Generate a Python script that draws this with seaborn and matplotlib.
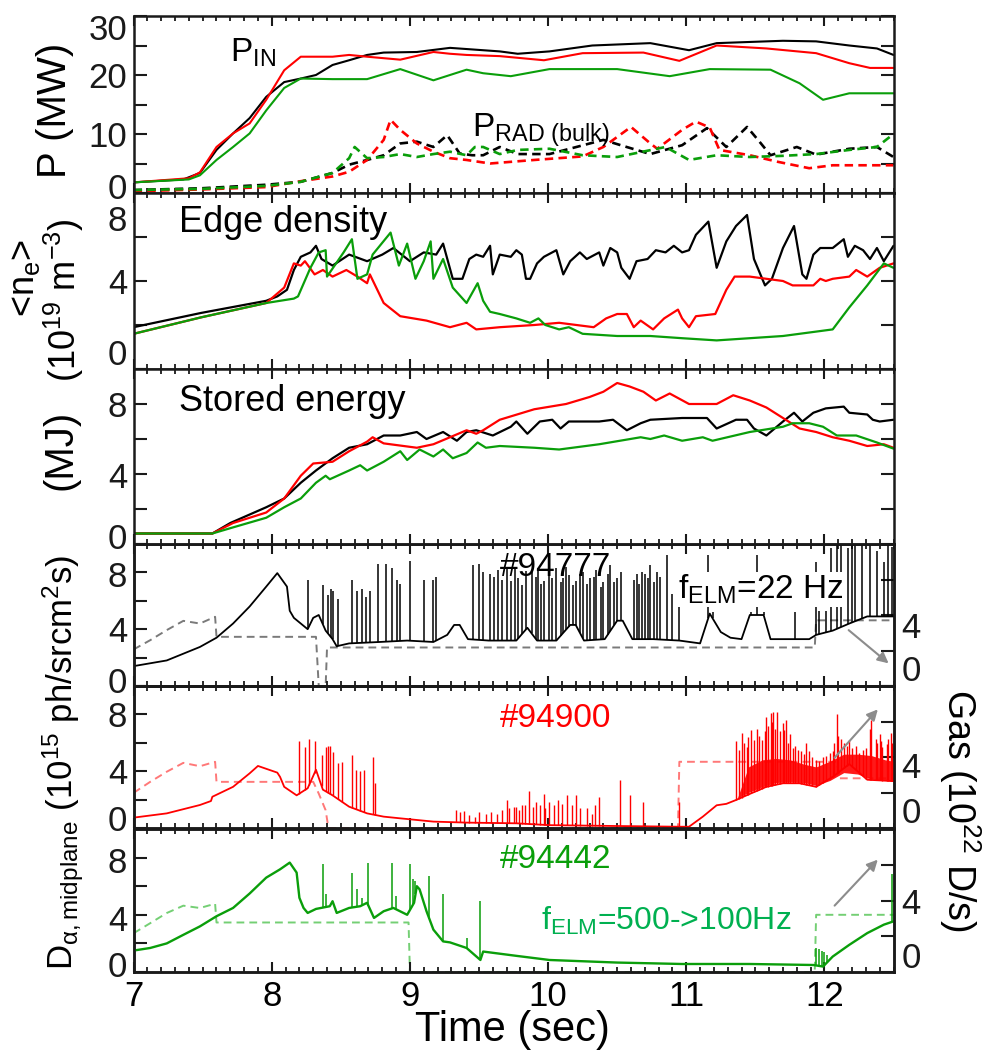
import numpy as np
import matplotlib
matplotlib.use("Agg")
import matplotlib.pyplot as plt
import seaborn as sns
from matplotlib.ticker import MultipleLocator, NullLocator

# ---------------- data ----------------
# Panel 1: input power (solid) and bulk radiated power (dashed), MW
pin_t_k = [7.0,7.36,7.48,7.60,7.72,7.84,7.96,8.09,8.21,8.32,8.44,8.56,8.69,8.81,9.05,9.29,9.41,9.65,9.78,10.01,10.32,10.74,11.02,11.22,11.70,11.94,12.18,12.38,12.5]
pin_k   = [1.8,2.3,3.4,7.3,10.1,12.7,16.3,18.8,19.4,20.0,21.7,22.5,23.4,23.8,23.9,24.6,24.4,24.0,23.6,24.0,25.0,25.4,24.2,25.4,25.8,25.7,25.0,24.5,23.4]
pin_t_r = [7.0,7.40,7.48,7.60,7.72,7.84,7.96,8.09,8.21,8.44,8.56,8.69,8.93,9.17,9.29,9.41,9.65,9.97,10.25,10.69,10.95,11.22,11.58,11.94,12.18,12.33,12.5]
pin_r   = [1.8,2.5,3.5,7.8,10.1,11.8,15.8,20.8,23.1,23.1,23.4,23.1,22.6,23.9,23.6,23.4,23.2,22.5,23.7,23.8,22.4,25.0,24.5,23.7,22.0,21.2,21.2]
pin_t_g = [7.0,7.40,7.48,7.60,7.72,7.84,7.96,8.09,8.21,8.44,8.69,8.93,9.17,9.41,9.53,9.73,10.01,10.50,10.88,11.17,11.61,11.82,11.99,12.18,12.5]
pin_g   = [1.8,2.3,3.0,5.6,7.8,10.1,14.0,17.8,19.4,19.3,19.3,21.0,19.1,20.9,20.3,19.8,21.0,21.0,19.8,21.0,20.9,18.6,15.8,16.9,16.9]

prad_t_k = [7.0,7.49,7.96,8.21,8.44,8.56,8.69,8.81,8.93,9.05,9.17,9.27,9.36,9.45,9.53,9.65,9.78,10.01,10.40,10.54,10.74,10.97,11.15,11.29,11.44,11.53,11.61,11.80,11.94,12.18,12.38,12.5]
prad_k   = [0.5,0.8,1.4,1.9,3.4,4.8,5.6,6.4,8.4,8.7,7.8,9.8,6.7,6.4,6.4,7.8,6.6,6.6,9.0,8.0,6.6,8.1,11.0,7.8,11.2,8.7,6.4,7.8,6.5,7.5,7.8,6.1]
prad_t_r = [7.0,7.49,7.96,8.21,8.44,8.56,8.69,8.81,8.86,8.93,9.05,9.17,9.29,9.41,9.58,9.90,10.25,10.40,10.60,10.74,10.79,10.97,11.07,11.17,11.24,11.46,11.66,11.89,12.06,12.31,12.5]
prad_r   = [0.3,0.6,1.0,2.0,2.8,3.6,5.6,9.0,12.4,10.7,8.4,7.0,5.9,5.6,5.0,5.6,6.2,7.8,11.2,8.4,7.5,10.7,12.1,11.1,7.3,6.4,5.3,4.2,4.7,4.7,4.7]
prad_t_g = [7.0,7.49,7.96,8.21,8.44,8.56,8.60,8.69,8.81,8.93,9.05,9.17,9.29,9.41,9.47,9.53,9.65,9.78,10.01,10.25,10.50,10.85,11.02,11.22,11.46,11.70,11.94,12.18,12.38,12.5]
prad_g   = [0.5,0.7,1.2,1.9,3.4,5.9,7.8,5.9,6.1,6.6,6.1,6.6,7.0,6.4,7.8,7.8,6.6,7.3,7.5,6.4,6.1,7.8,5.6,6.4,6.1,6.3,6.6,7.3,7.8,10.0]

# Panel 2: edge density, 1e19 m^-3
ne_t_k = [7.0,7.49,7.96,8.04,8.11,8.16,8.21,8.28,8.32,8.36,8.44,8.56,8.69,8.80,8.88,9.0,9.10,9.19,9.24,9.31,
          9.38,9.43,9.48,9.53,9.58,9.60,9.65,9.73,9.77,9.81,9.84,9.87,9.92,9.97,10.06,10.11,10.16,10.23,10.28,10.37,
          10.40,10.45,10.50,10.53,10.59,10.64,10.72,10.78,10.85,10.91,10.97,11.02,11.07,11.16,11.18,11.22,11.29,11.36,11.44,11.49,
          11.57,11.62,11.70,11.78,11.84,11.87,11.92,11.97,12.06,12.14,12.17,12.22,12.28,12.33,12.38,12.43,12.5]
ne_k   = [1.9,2.55,3.1,3.3,3.6,4.5,5.1,5.3,5.6,5.0,4.7,5.2,4.9,5.2,5.5,4.9,5.3,5.2,5.7,4.1,
          4.1,5.0,5.2,5.1,5.6,4.3,5.2,5.1,5.4,5.2,4.1,4.1,4.8,5.1,5.4,4.3,4.9,5.3,5.0,5.3,
          4.7,5.5,5.3,4.6,4.1,4.9,5.0,5.4,5.3,5.6,5.3,5.4,6.1,6.7,6.0,4.6,5.8,6.5,7.0,5.0,
          3.8,4.1,5.5,6.5,4.3,4.1,5.2,5.5,5.5,5.9,5.1,5.6,5.4,5.0,5.5,4.9,5.6]
ne_t_r = [7.0,7.49,7.96,8.09,8.16,8.21,8.24,8.31,8.37,8.44,8.54,8.62,8.69,8.71,8.81,8.93,9.12,9.29,9.41,9.48,
          9.65,9.90,10.08,10.33,10.42,10.50,10.57,10.62,10.67,10.76,10.84,10.94,10.97,11.02,11.07,11.21,11.29,11.35,11.46,11.58,
          11.70,11.77,11.92,11.97,12.01,12.06,12.18,12.23,12.31,12.40,12.5]
ne_r   = [1.6,2.35,3.0,3.7,4.8,4.7,4.9,4.3,4.5,4.2,4.5,4.2,3.9,4.3,3.0,2.4,2.2,1.9,2.1,1.8,
          1.9,2.0,2.1,1.9,2.3,2.5,2.5,1.9,2.2,1.8,2.3,2.7,2.3,1.9,2.4,2.5,3.6,4.2,4.2,4.1,
          4.0,3.8,3.8,4.1,4.0,4.1,4.2,4.5,4.2,4.6,4.8]
ne_t_g = [7.0,7.49,7.96,8.11,8.16,8.19,8.28,8.34,8.39,8.40,8.52,8.58,8.62,8.69,8.73,8.86,8.92,8.98,9.04,9.10,
          9.15,9.17,9.24,9.31,9.41,9.49,9.53,9.58,9.65,9.77,9.87,9.93,9.98,10.08,10.15,10.25,10.50,10.74,10.97,11.22,
          11.46,11.70,11.94,12.06,12.18,12.31,12.43,12.5]
ne_g   = [1.6,2.35,3.0,3.15,3.2,3.3,4.6,5.3,5.4,4.2,5.3,5.9,4.1,4.3,5.2,6.2,4.7,5.7,4.1,4.9,
          5.8,4.1,5.0,3.7,3.0,3.9,3.1,2.6,2.5,2.3,2.1,2.3,2.0,1.8,1.9,1.6,1.5,1.5,1.4,1.3,
          1.4,1.5,1.7,1.8,2.8,3.8,4.8,4.6]

# Panel 3: stored energy, MJ
w_t_k = [7.0,7.57,7.70,7.96,8.09,8.21,8.32,8.44,8.56,8.69,8.81,8.93,9.05,9.12,9.24,9.34,9.41,9.48,9.60,9.73,
         9.77,9.85,9.94,10.03,10.09,10.15,10.37,10.47,10.57,10.67,10.74,10.97,11.15,11.22,11.36,11.44,11.49,11.58,11.70,11.78,
         11.84,11.92,12.01,12.14,12.18,12.31,12.35,12.40,12.5]
w_k   = [0.6,0.6,1.2,2.1,2.6,3.5,4.2,4.9,5.5,5.7,6.2,6.2,6.4,6.0,6.4,5.9,6.4,6.5,6.2,6.7,
         7.0,6.3,7.0,7.1,6.6,7.0,7.0,7.1,6.5,6.9,7.1,7.2,7.2,6.6,7.1,7.1,6.6,6.2,7.0,7.5,
         7.0,7.5,7.75,7.85,7.5,7.4,7.1,7.0,7.1]
w_t_r = [7.0,7.57,7.72,7.96,8.09,8.21,8.30,8.44,8.56,8.69,8.73,8.81,9.05,9.17,9.29,9.41,9.48,9.53,9.65,9.90,
         10.13,10.30,10.40,10.50,10.59,10.69,10.78,10.88,11.02,11.22,11.34,11.46,11.58,11.70,11.82,11.94,12.06,12.18,12.31,12.43,12.5]
w_r   = [0.6,0.6,1.2,1.8,2.6,3.9,4.6,4.7,5.3,5.85,6.1,5.75,5.5,5.7,6.1,6.5,6.3,6.5,7.1,7.7,
         8.0,8.4,8.7,9.2,9.0,8.7,8.2,8.6,8.0,8.0,8.5,8.2,7.8,7.2,6.6,6.4,6.1,5.9,5.6,5.7,5.5]
w_t_g = [7.0,7.57,7.72,7.96,8.09,8.21,8.32,8.39,8.42,8.56,8.64,8.69,8.81,8.93,8.98,9.07,9.17,9.24,9.31,9.41,
         9.49,9.55,9.65,9.90,10.08,10.37,10.67,10.74,10.84,10.97,11.12,11.19,11.46,11.70,11.77,11.89,11.99,12.09,12.23,12.38,12.5]
w_g   = [0.6,0.6,0.95,1.5,2.1,2.6,3.5,3.9,3.7,4.2,4.5,4.2,4.7,5.3,4.8,5.4,5.0,5.4,4.9,5.2,
         5.8,5.5,5.6,5.5,5.4,5.7,6.1,6.0,6.2,5.9,6.1,5.9,6.4,6.7,6.9,6.9,6.7,6.2,6.2,5.8,5.45]

# Panel 4: #94777 D-alpha (baseline + ELM spikes), 1e15 ph/sr cm^2 s
da_t_k = [7.0,7.24,7.48,7.60,7.72,7.84,7.96,8.04,8.11,8.13,8.16,8.26,8.30,8.34,8.39,8.44,8.47,8.56,8.78,8.98,
          9.17,9.27,9.32,9.36,9.42,9.57,9.77,9.85,9.92,10.06,10.16,10.20,10.26,10.41,10.50,10.54,10.61,10.76,10.95,11.10,
          11.17,11.25,11.32,11.40,11.46,11.56,11.61,11.74,11.89,11.94,12.06,12.18,12.31,12.5]
da_k   = [1.4,1.8,2.75,3.4,4.4,5.6,7.0,7.95,7.0,5.3,4.8,4.0,4.8,5.0,3.9,3.3,2.8,3.0,3.1,3.2,
          3.1,3.6,4.3,4.3,3.3,3.2,3.2,4.1,3.2,3.2,4.3,4.3,3.2,3.3,4.6,4.6,3.3,3.3,3.2,3.0,
          5.1,3.8,3.4,3.3,5.0,5.0,3.3,3.3,3.3,3.6,3.9,4.4,4.9,4.9]
elm_t_k = [8.26,8.37,8.41,8.43,8.44,8.48,8.58,8.62,8.65,8.68,8.71,8.77,8.83,8.87,8.91,8.93,9.00,9.10,9.17,9.19,
           9.46,9.50,9.58,9.64,9.73,9.78,9.84,9.88,9.93,9.97,10.01,10.06,10.11,10.15,10.20,10.25,10.30,10.35,10.40,10.45,
           10.50,10.64,10.68,10.70,10.74,10.79,10.86,10.90,10.95,11.16,11.19,11.47,11.51,11.56,11.79,11.94,11.96,12.01,12.05,12.09,
           12.12,12.17,12.20,12.22,12.27,12.33,12.38,12.43,12.46,12.49,
           9.53,9.61,9.67,9.70,9.76,9.81,9.91,9.95,10.03,10.09,10.13,10.18,10.23,10.28,10.33,10.38,10.43,10.48,10.53,10.62,
           10.66,10.72,10.77,10.81]
elm_k   = [7.5,7.1,6.4,6.8,6.7,6.1,7.5,6.7,6.8,6.3,6.7,8.6,8.6,8.3,7.5,7.2,8.8,7.5,7.5,7.7,
           8.5,8.6,7.9,8.2,7.4,7.6,8.1,8.1,8.3,7.4,8.1,8.3,7.6,7.8,7.4,8.0,7.6,8.2,7.3,8.5,
           7.6,7.9,8.0,7.9,8.5,8.0,9.2,6.5,6.0,9.2,5.2,5.2,9.2,5.2,5.2,8.7,5.3,5.3,9.7,9.9,
           10.0,9.7,10.0,10.0,9.9,10.0,9.5,8.7,10.0,9.8,
           8.0,7.7,7.5,8.4,8.3,7.1,7.7,7.2,7.6,7.3,8.4,7.1,7.9,7.2,7.7,7.0,7.9,7.3,8.0,7.5,
           7.2,7.6,7.3,7.7]
gas_t_k = [7.0,7.12,7.24,7.36,7.48,7.59,7.60,8.32,8.34,8.39,8.40,11.93,11.94,12.5]
gas_k   = [2.06,2.58,3.15,3.67,3.52,3.9,2.77,2.77,0.0,0.0,2.17,2.17,3.7,3.7]

# Panel 5: #94900
da_t_r = [7.0,7.24,7.48,7.56,7.57,7.72,7.84,7.90,8.04,8.06,8.09,8.18,8.26,8.32,8.37,8.44,8.56,8.69,8.81,8.93,
          9.17,9.41,9.77,10.01,10.50,10.95,11.02,11.12,11.22,11.29,11.36,11.46,11.58,11.70,11.82,11.94,12.06,12.18,12.31,12.5]
da_r   = [0.73,1.03,1.62,1.9,2.2,2.9,3.85,4.37,3.9,3.6,2.9,2.3,2.8,4.1,2.7,2.3,1.5,1.03,0.8,0.68,
          0.45,0.38,0.33,0.2,0.14,0.09,0.09,0.8,1.6,1.7,1.97,2.4,2.9,3.15,3.15,2.9,3.6,4.5,3.4,3.3]
elm_t_r1 = [8.20,8.24,8.27,8.31,8.36,8.39,8.41,8.42,8.44,8.48,8.51,8.58,8.61,8.64,8.67,8.73,8.75]
elm_r1   = [6.13,5.73,6.24,6.13,5.14,5.73,5.78,5.78,5.38,4.55,4.66,5.14,4.08,4.04,4.08,5.02,3.15]
elm_t_r2 = [9.33,9.36,9.39,9.43,9.47,9.50,9.55,9.59,9.63,9.67,9.70,9.72,9.75,9.77,9.79,9.81,9.83,9.86,9.89,9.91,
            9.94,9.97,9.98,10.01,10.04,10.07,10.10,10.14,10.17,10.20,10.23,10.28,10.32,10.34,10.37,10.52,10.59,10.69,10.95]
elm_r2   = [1.3,1.1,1.2,0.9,0.8,1.1,1.0,1.1,1.0,1.3,2.0,1.4,1.5,1.5,1.3,1.6,1.6,2.6,1.5,1.85,
            1.6,2.4,1.4,1.85,1.6,1.97,1.7,2.3,1.6,2.3,1.4,1.4,1.0,1.6,2.2,3.4,2.3,1.85,1.85]
elm_t_r3 = [11.36,11.38,11.40,11.42,11.44,11.45,11.47,11.49,11.51,11.53,11.55,11.57,11.58,11.59,11.61,11.62,11.63,11.64,11.66,11.68,
            11.70,11.71,11.72,11.74,11.75,11.77,11.79,11.81,11.83,11.85,11.87,11.89,11.91,11.94,11.96,11.99,12.01,12.04,12.06,12.07,
            12.09,12.10,12.12,12.14,12.16,12.18,12.20,12.23,12.25,12.28,12.30,12.33,12.34,12.37,12.38,12.40,12.41,12.42,12.45,12.46,
            12.48,12.49]
elm_r3   = [6.1,5.5,6.7,6.0,5.7,6.4,6.9,6.2,7.0,6.5,6.2,6.8,7.8,7.2,8.1,7.5,8.2,7.0,8.2,6.8,
            7.4,6.9,7.6,6.0,6.6,5.6,5.8,5.5,5.4,5.2,6.0,5.4,5.0,4.8,4.7,5.0,5.1,5.3,5.4,6.0,
            8.0,6.5,6.3,6.0,5.8,6.2,5.6,5.8,5.3,5.5,5.6,7.0,7.6,6.3,6.0,6.6,6.1,5.7,5.9,6.3,
            6.7,6.0]
band_t_r  = [11.37,11.45,11.55,11.65,11.75,11.85,11.94,12.04,12.14,12.24,12.34,12.44,12.5]
band_lo_r = [2.1,2.5,2.9,3.2,3.25,3.2,3.0,3.35,3.9,3.8,3.45,3.35,3.3]
band_hi_r = [2.1,4.3,4.8,4.9,4.8,4.5,4.3,4.7,5.2,5.2,5.1,4.8,4.7]
gas_t_r = [7.0,7.12,7.24,7.36,7.48,7.59,7.60,8.30,8.34,8.39,8.41,10.94,10.95,12.09,12.11,12.5]
gas_r   = [1.98,2.6,3.17,3.67,3.48,3.73,2.6,2.6,1.94,1.0,0.0,0.0,3.73,3.73,2.8,2.8]

# Panel 6: #94442
da_t_g = [7.0,7.12,7.24,7.36,7.48,7.60,7.72,7.84,7.96,8.06,8.13,8.18,8.20,8.23,8.26,8.32,8.42,8.44,8.47,8.56,
          8.64,8.69,8.74,8.81,8.88,8.98,9.03,9.05,9.07,9.12,9.17,9.24,9.29,9.41,9.51,9.53,9.77,10.01,10.50,10.97,
          11.46,11.92,11.99,12.06,12.18,12.31,12.43,12.5]
da_g   = [1.5,1.68,2.0,2.6,3.19,3.9,4.48,5.49,6.6,7.18,7.65,6.95,5.19,4.48,4.13,4.41,4.6,4.95,4.13,4.48,
          4.6,4.84,3.78,4.25,4.48,4.0,4.84,6.0,5.78,4.25,2.96,2.14,2.07,1.68,0.84,1.43,1.13,0.84,0.66,0.56,
          0.56,0.49,0.38,1.08,1.9,2.72,3.31,3.54]
elm_t_g = [8.37,8.39,8.58,8.62,8.65,8.70,8.87,8.90,9.00,9.02,9.04,9.14,9.24,9.41,9.51,11.94,11.96,11.98,12.00,12.02,12.49]
elm_g   = [7.54,5.42,6.95,5.77,5.19,7.65,7.65,5.3,7.54,6.48,6.36,6.72,5.42,2.37,5.0,1.7,1.6,1.5,1.4,1.2,6.83]
gas_t_g = [7.0,7.12,7.24,7.36,7.48,7.59,7.60,8.99,9.0,11.93,11.94,12.5]
gas_g   = [2.17,2.73,3.3,3.71,3.58,3.82,2.77,2.77,0.0,0.0,3.2,3.2]

# ---------------- style ----------------
sns.set_theme(style="ticks")
plt.rcParams["font.family"] = ["Liberation Sans", "DejaVu Sans"]
plt.rcParams["mathtext.fontset"] = "custom"
plt.rcParams["mathtext.rm"] = "Liberation Sans"
plt.rcParams["mathtext.it"] = "Liberation Sans:italic"
plt.rcParams["mathtext.bf"] = "Liberation Sans:bold"
plt.rcParams["mathtext.default"] = "regular"
plt.rcParams["axes.unicode_minus"] = False
plt.rcParams["text.color"] = "black"
plt.rcParams["axes.labelcolor"] = "black"
plt.rcParams["xtick.color"] = "black"
plt.rcParams["ytick.color"] = "black"
plt.rcParams["xtick.labelcolor"] = "black"
plt.rcParams["ytick.labelcolor"] = "black"

K, R, G = "#000000", "#ff0000", "#0a9e0a"
GK, GR, GG = "#7a7a7a", "#ff7878", "#74cf74"

W, H = 988, 1057
fig = plt.figure(figsize=(W / 100, H / 100), dpi=100)
fig.patch.set_facecolor("white")


def rect(top, bot):
    return [133.6 / W, 1 - bot / H, (893.5 - 133.6) / W, (bot - top) / H]


bounds = [(16, 193), (193, 369), (369, 544), (544, 686), (686, 828), (829, 972)]
axs = [fig.add_axes(rect(*b)) for b in bounds]


def line(ax, t, v, **kw):
    sns.lineplot(x=t, y=v, ax=ax, estimator=None, sort=False, legend=False, **kw)


def style(ax, ymax, ystep, right=True):
    ax.set_xlim(7, 12.5)
    ax.set_ylim(0, ymax)
    ax.xaxis.set_major_locator(MultipleLocator(1))
    ax.xaxis.set_minor_locator(MultipleLocator(0.1))
    ax.yaxis.set_major_locator(MultipleLocator(ystep))
    ax.yaxis.set_minor_locator(NullLocator())
    ax.tick_params(axis="x", which="major", direction="in", length=7.5, width=1.5,
                   top=True, bottom=True, labelbottom=False, color="k")
    ax.tick_params(axis="x", which="minor", direction="in", length=3.8, width=1.3,
                   top=True, bottom=True, color="k")
    ax.tick_params(axis="y", which="major", direction="in", length=9.5, width=1.5,
                   left=True, right=right, labelleft=False, labelright=False, color="k")
    for s in ax.spines.values():
        s.set_visible(True)
        s.set_linewidth(1.8)
        s.set_color("k")
    ax.set_xlabel("")
    ax.set_ylabel("")


def ylab(ax, vals, offs, side="left", fs=25):
    for v, d in zip(vals, offs):
        if side == "left":
            ax.annotate(str(v), xy=(0, v), xycoords=("axes fraction", "data"),
                        xytext=(-4.5, d), textcoords="offset points", ha="right",
                        va="center_baseline", fontsize=fs, annotation_clip=False, color="k")
        else:
            ax.annotate(str(v), xy=(1, v), xycoords=("axes fraction", "data"),
                        xytext=(5.5, d), textcoords="offset points", ha="left",
                        va="center_baseline", fontsize=fs, annotation_clip=False, color="k")


# ---- Panel 1 ----
ax = axs[0]
line(ax, pin_t_k, pin_k, color=K, lw=1.5)
line(ax, pin_t_r, pin_r, color=R, lw=1.5)
line(ax, pin_t_g, pin_g, color=G, lw=1.5)
dash = (0, (3.2, 2.0))
line(ax, prad_t_k, prad_k, color=K, lw=1.9, linestyle=dash)
line(ax, prad_t_r, prad_r, color=R, lw=1.9, linestyle=dash)
line(ax, prad_t_g, prad_g, color=G, lw=1.9, linestyle=dash)
style(ax, 30, 5)
ylab(ax, [30, 20, 10, 0], [-8, 0, 0, 5])
ax.text(7.70, 22.3, r"P$_{IN}$", fontsize=24, va="baseline")
ax.text(9.45, 9.5, r"P$_{RAD\ (bulk)}$", fontsize=24, va="baseline")

# ---- Panel 2 ----
ax = axs[1]
line(ax, ne_t_k, ne_k, color=K, lw=1.6)
line(ax, ne_t_r, ne_r, color=R, lw=1.6)
line(ax, ne_t_g, ne_g, color=G, lw=1.6)
style(ax, 8, 2)
ylab(ax, [8, 4, 0], [-18, 0, 12])
ax.text(7.33, 6.25, "Edge density", fontsize=26, va="baseline")

# ---- Panel 3 ----
ax = axs[2]
line(ax, w_t_k, w_k, color=K, lw=1.6)
line(ax, w_t_r, w_r, color=R, lw=1.6)
line(ax, w_t_g, w_g, color=G, lw=1.6)
style(ax, 10, 2)
ylab(ax, [8, 4, 0], [0, -1, 6])
ax.text(7.33, 7.6, "Stored energy", fontsize=26, va="baseline")


def dalpha(ax, bt, bv, et, ev, col, gt, gv, gcol, lw_b=1.3, lw_s=1.1):
    ax.patch.set_visible(False)
    tw = ax.twinx()
    tw.set_zorder(ax.get_zorder() - 1)
    line(tw, gt, gv, color=gcol, lw=1.4, linestyle=(0, (4.0, 2.6)))
    tw.set_ylim(0, 8)
    tw.set_xlim(7, 12.5)
    tw.yaxis.set_major_locator(MultipleLocator(2))
    tw.tick_params(axis="y", direction="in", length=9.5, width=1.5, labelright=False, color="k")
    for s in tw.spines.values():
        s.set_linewidth(1.8)
        s.set_color("k")
    tw.set_ylabel("")
    line(ax, bt, bv, color=col, lw=lw_b)
    base = np.interp(et, bt, bv)
    ax.vlines(et, base, ev, color=col, lw=lw_s)
    style(ax, 10, 2, right=False)
    return tw


arrow_kw = dict(arrowstyle="-|>", color="#8c8c8c", lw=1.5, mutation_scale=16)

# ---- Panel 4 ----
ax = axs[3]
tw = dalpha(ax, da_t_k, da_k, elm_t_k, elm_k, K, gas_t_k, gas_k, GK)
ylab(ax, [8, 4, 0], [-1, 0, 4])
ylab(tw, [4, 0], [-7, 13], side="right")
ax.text(9.65, 7.76, "#94777", fontsize=24, va="baseline", color=K)
ax.text(10.94, 6.15, r"f$_{ELM}$=22 Hz", fontsize=24, va="baseline", color=K,
        bbox=dict(facecolor="white", edgecolor="none", pad=0.5), zorder=5)
ax.annotate("", xy=(12.48, 1.47), xytext=(12.16, 4.06), arrowprops=arrow_kw, annotation_clip=False)

# ---- Panel 5 ----
ax = axs[4]
tw = dalpha(ax, da_t_r, da_r, elm_t_r1 + elm_t_r2 + elm_t_r3, elm_r1 + elm_r2 + elm_r3,
            R, gas_t_r, gas_r, GR, lw_s=1.0)
ax.fill_between(band_t_r, band_lo_r, band_hi_r, color=R, lw=0, alpha=0.9)
ylab(ax, [8, 4, 0], [0, 0, 7])
ylab(tw, [4, 0], [-6, 13], side="right")
ax.text(9.65, 7.1, "#94900", fontsize=24, va="baseline", color=R)
ax.annotate("", xy=(12.40, 8.5), xytext=(12.06, 4.8), arrowprops=arrow_kw, annotation_clip=False)

# ---- Panel 6 ----
ax = axs[5]
tw = dalpha(ax, da_t_g, da_g, elm_t_g, elm_g, G, gas_t_g, gas_g, GG, lw_b=1.7)
ax.tick_params(axis="x", which="major", labelbottom=True, labelsize=25, pad=6)
ax.set_xticks([7, 8, 9, 10, 11, 12])
ax.set_xticklabels(["7", "8", "9", "10", "11", "12"])
ylab(ax, [8, 4, 0], [-2, -2, 6])
ylab(tw, [4, 0], [0, 12], side="right")
ax.text(9.65, 7.3, "#94442", fontsize=24, va="baseline", color=G)
ax.text(9.95, 2.96, r"f$_{ELM}$=500->100Hz", fontsize=23, va="baseline", color="#00b050")
ax.annotate("", xy=(12.40, 8.0), xytext=(12.06, 4.5), arrowprops=arrow_kw, annotation_clip=False)

# ---- axis titles ----
fig.text(55 / W, 1 - 110 / H, "P (MW)", rotation=90, fontsize=29, ha="center", va="center")
fig.text(24 / W, 1 - 278 / H, r"<n$_{e}$>", rotation=90, fontsize=26, ha="center", va="center")
fig.text(64 / W, 1 - 300 / H, r"(10$^{19}$ m$^{-3}$)", rotation=90, fontsize=26, ha="center", va="center")
fig.text(60 / W, 1 - 450 / H, "(MJ)", rotation=90, fontsize=29, ha="center", va="center")
fig.text(63 / W, 1 - 762 / H, r"D$_{α,midplane}$ (10$^{15}$ ph/srcm$^{2}$s)", rotation=90,
         fontsize=25, ha="center", va="center")
fig.text(960 / W, 1 - 810 / H, r"Gas (10$^{22}$ D/s)", rotation=270, fontsize=27,
         ha="center", va="center")
fig.text(512 / W, 1 - 1030 / H, "Time (sec)", fontsize=30, ha="center", va="center")

fig.savefig("out.png", dpi=100, facecolor="white")
